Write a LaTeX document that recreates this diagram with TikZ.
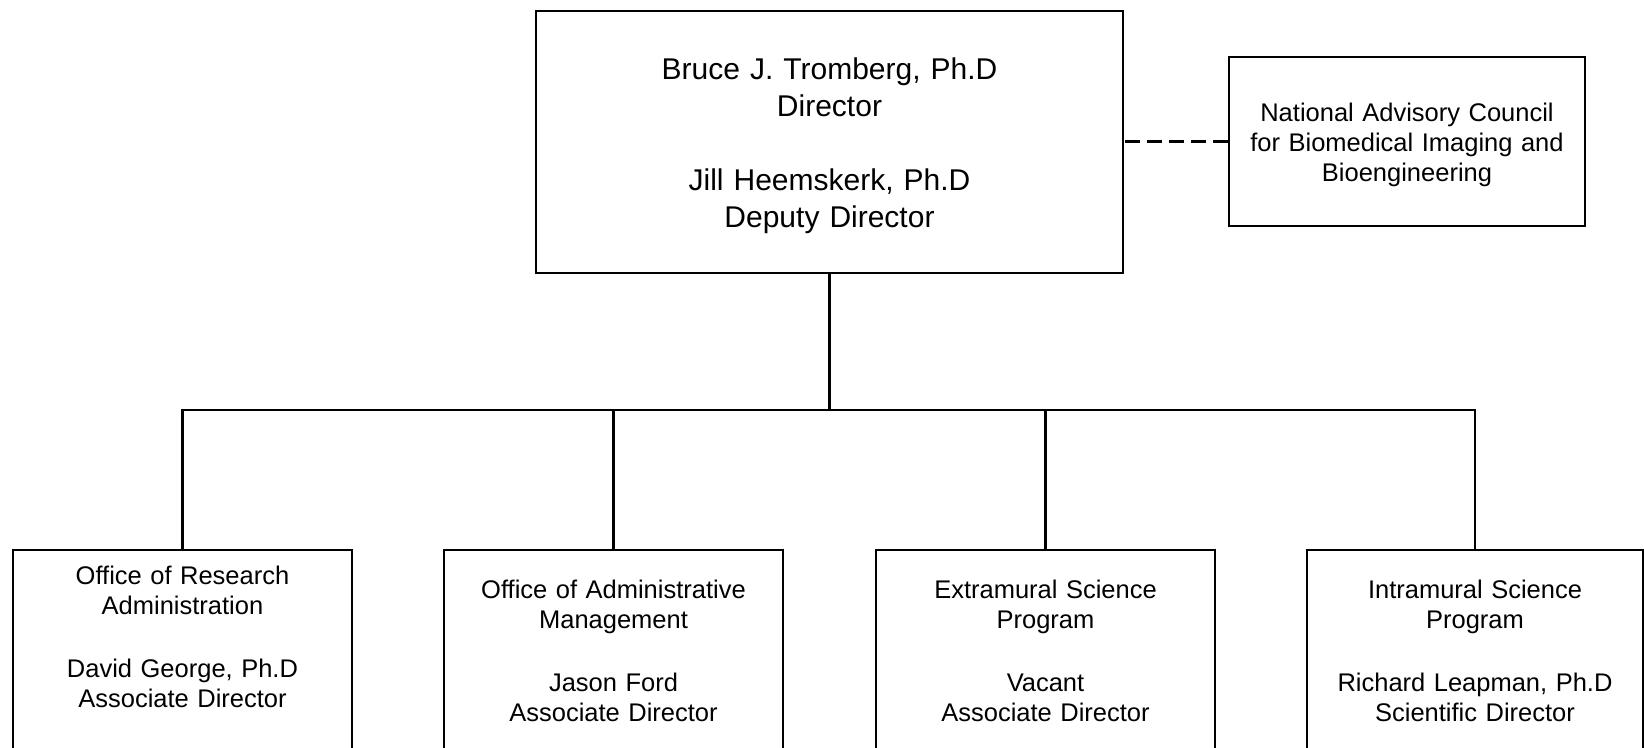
\documentclass[tikz,border=0pt]{standalone}
\usepackage{fontspec}
\setmainfont{Liberation Sans}
\begin{document}
\begin{tikzpicture}[x=0.5pt,y=-0.5pt,
  box/.style={draw=black, line width=1.1pt, rectangle, align=center, inner xsep=0pt, anchor=north},
  small/.style={font=\fontsize{12.75pt}{15.3pt}\selectfont},
  big/.style={font=\fontsize{15pt}{18.5pt}\selectfont},
  unit/.style={box, small, text width=150pt, minimum width=169.5pt, text height=9.3pt},
  link/.style={draw=black, line width=1.1pt},
  dashlink/.style={link, dash pattern=on 7.5pt off 3.5pt}]
\useasboundingbox (0,0) rectangle (1644,748);
\clip (0,0) rectangle (1644,748);

\node[box, big, text width=280pt, minimum width=293.5pt, text height=11pt, text depth=74pt, inner ysep=23pt] (dir) at (829.5,10)
  {Bruce J. Tromberg, Ph.D\\ Director\\[18.5pt] Jill Heemskerk, Ph.D\\ Deputy Director};

\node[box, font=\fontsize{12.75pt}{15pt}\selectfont, text width=170pt, minimum width=178pt, text height=9.3pt, text depth=29.8pt, inner ysep=22.7pt] (nac) at (1407,56)
  {National Advisory Council\\ for Biomedical Imaging and\\ Bioengineering};

\node[unit, inner ysep=7.7pt, text depth=85.8pt] (ora) at (182.5,549)
  {Office of Research\\ Administration\\[16pt] David George, Ph.D\\ Associate Director};
\node[unit, inner ysep=14.7pt, text depth=71.8pt] (oam) at (613.5,549)
  {Office of Administrative\\ Management\\[16pt] Jason Ford\\ Associate Director};
\node[unit, inner ysep=14.7pt, text depth=71.8pt] (esp) at (1045.5,549)
  {Extramural Science\\ Program\\[16pt] Vacant\\ Associate Director};
\node[unit, minimum width=168pt, inner ysep=14.7pt, text depth=71.8pt] (isp) at (1475,549)
  {Intramural Science\\ Program\\[16pt] Richard Leapman, Ph.D\\ Scientific Director};

\coordinate (j) at (829.5,410);
\draw[link] (dir.south) -- (j);
\foreach \b in {ora,oam,esp,isp} \draw[link] (\b.north) |- (j);
\draw[dashlink] (nac.west) -- (nac.west -| dir.east);
\end{tikzpicture}
\end{document}
